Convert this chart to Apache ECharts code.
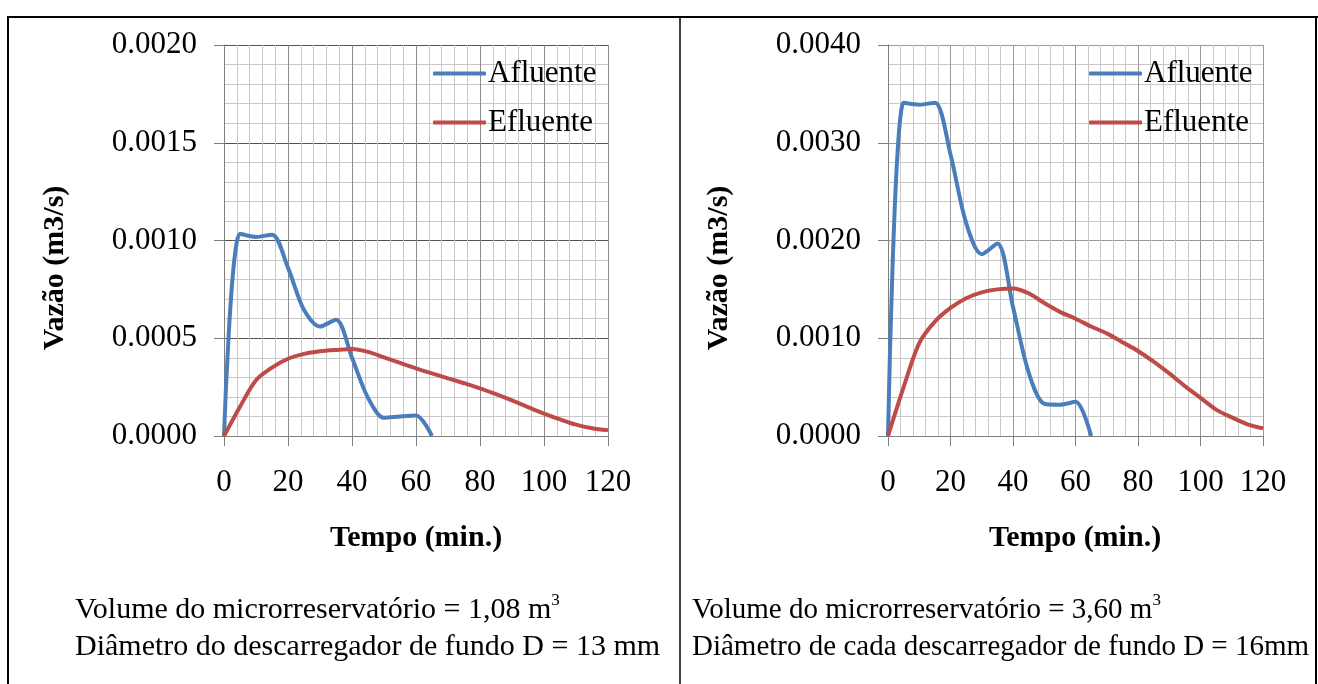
<!DOCTYPE html>
<html><head><meta charset="utf-8">
<script src="https://cdn.jsdelivr.net/npm/echarts@6/dist/echarts.min.js"></script>
<style>html,body{margin:0;padding:0;background:#fff}#c{width:1318px;height:684px}</style>
</head><body><div id="c"></div>
<script>
// ---- data ----
const inflowTimes = [0, 5, 10, 15, 20, 25, 30, 35, 40, 45, 50, 55, 60, 65];
const outflowTimes = [0, 5, 10, 15, 20, 25, 30, 35, 40, 45, 50, 55, 60, 65, 70, 75, 80, 85, 90, 95, 100, 105, 110, 115, 120];
// Chart 1 (volume 1,08 m3, D = 13 mm)
const afluente1 = [0, 0.001035, 0.001018, 0.001030, 0.000860, 0.000645, 0.000560, 0.000595, 0.000400, 0.000195, 0.000093, 0.000100, 0.000105, 0];
const efluente1 = [0, 0.000150, 0.000285, 0.000350, 0.000395, 0.000420, 0.000433, 0.000440, 0.000445, 0.000430, 0.000402, 0.000374, 0.000346, 0.000320, 0.000295, 0.000270, 0.000244, 0.000214, 0.000182, 0.000148, 0.000115, 0.000085, 0.000058, 0.000040, 0.000030];
// Chart 2 (volume 3,60 m3, D = 16 mm)
const afluente2 = [0, 0.003410, 0.003390, 0.003410, 0.002880, 0.002180, 0.001860, 0.001970, 0.001320, 0.000650, 0.000330, 0.000320, 0.000350, 0];
const efluente2 = [0, 0.000500, 0.000950, 0.001170, 0.001310, 0.001410, 0.001470, 0.001500, 0.001510, 0.001460, 0.001360, 0.001270, 0.001200, 0.001120, 0.001050, 0.000960, 0.000870, 0.000760, 0.000640, 0.000510, 0.000390, 0.000270, 0.000190, 0.000120, 0.000078];
const seriesNames = ['Afluente', 'Efluente'];
const xTitle = 'Tempo (min.)';
const yTitle = 'Vazão (m3/s)';
const caption1 = ['Volume do microrreservatório = 1,08 m', 'Diâmetro do descarregador de fundo D = 13 mm'];
const caption2 = ['Volume do microrreservatório = 3,60 m', 'Diâmetro de cada descarregador de fundo D = 16mm'];

// ---- chart ----
const FONT = 'Liberation Serif';
const BLUE = '#4a7ebb', RED = '#be4b48';
const pairs = (xs, ys) => ys.map((v, i) => [xs[i], v]);

function xAxis(gi, majorColor) {
  return {
    type: 'value', gridIndex: gi, min: 0, max: 120, interval: 20,
    axisLine: { show: true, onZero: false, lineStyle: { color: '#7f7f7f', width: 1 } },
    axisTick: { show: true, inside: false, length: 10, lineStyle: { color: '#7f7f7f' } },
    axisLabel: { margin: 31, color: '#000', fontFamily: FONT, fontSize: 31 },
    splitLine: { show: true, lineStyle: { color: majorColor, width: 1 } },
    minorTick: { show: false, splitNumber: 5 },
    minorSplitLine: { show: true, lineStyle: { color: '#c8c8c8', width: 1 } }
  };
}
function yAxis(gi, max, interval, majorColor) {
  return {
    type: 'value', gridIndex: gi, min: 0, max: max, interval: interval,
    axisLine: { show: true, lineStyle: { color: '#7f7f7f', width: 1 } },
    axisTick: { show: true, inside: false, length: 10, lineStyle: { color: '#7f7f7f' } },
    axisLabel: { margin: 27, color: '#000', fontFamily: FONT, fontSize: 31, formatter: v => v.toFixed(4) },
    splitLine: { show: true, lineStyle: { color: majorColor, width: 1 } },
    minorTick: { show: false, splitNumber: 5 },
    minorSplitLine: { show: true, lineStyle: { color: '#c8c8c8', width: 1 } }
  };
}
function line(name, xi, data, color) {
  return {
    name: name, type: 'line', xAxisIndex: xi, yAxisIndex: xi, data: data,
    smooth: 0.3, symbol: 'none', color: color,
    lineStyle: { color: color, width: 4 }, z: 3
  };
}
function legend(left) {
  return {
    data: seriesNames, orient: 'vertical', left: left, top: 58, padding: 0,
    icon: 'roundRect', itemWidth: 53, itemHeight: 4, itemGap: 18,
    textStyle: { color: '#000', fontFamily: FONT, fontSize: 31, padding: [0, 0, 0, -3] }
  };
}
function axisTitleX(cx) {
  return { type: 'text', x: cx, y: 538, style: { text: xTitle, fontFamily: FONT, fontWeight: 'bold', fontSize: 30, fill: '#000', align: 'center', verticalAlign: 'middle' } };
}
function axisTitleY(cx) {
  return { type: 'text', x: cx, y: 268, rotation: Math.PI / 2, style: { text: yTitle, fontFamily: FONT, fontWeight: 'bold', fontSize: 30, fill: '#000', align: 'center', verticalAlign: 'middle' } };
}
function caption(x, lines, size) {
  return {
    type: 'text', x: x, y: 592,
    style: {
      text: '{a|' + lines[0] + '}{s|3}\n{a|' + lines[1] + '}',
      fill: '#000',
      rich: {
        a: { fontFamily: FONT, fontSize: size, lineHeight: 37, fill: '#000' },
        s: { fontFamily: FONT, fontSize: 17, lineHeight: 37, verticalAlign: 'top', fill: '#000', padding: [0, 0, 6, 0] }
      }
    }
  };
}
function vline(x, y1, y2, w) { return { type: 'line', shape: { x1: x, y1: y1, x2: x, y2: y2 }, style: { stroke: '#000', lineWidth: w } }; }
function hline(y, x1, x2, w) { return { type: 'line', shape: { x1: x1, y1: y, x2: x2, y2: y }, style: { stroke: '#000', lineWidth: w } }; }

const chart = echarts.init(document.getElementById('c'), null, { renderer: 'canvas', width: 1318, height: 684 });
chart.setOption({
  animation: false,
  backgroundColor: '#fff',
  grid: [
    { left: 224, top: 45, width: 384, height: 391 },
    { left: 888, top: 45, width: 375, height: 391 }
  ],
  xAxis: [xAxis(0, '#8c8c8c'), xAxis(1, '#9a9a9a')],
  yAxis: [yAxis(0, 0.002, 0.0005, '#555555'), yAxis(1, 0.004, 0.001, '#9a9a9a')],
  legend: [legend(433), legend(1089)],
  series: [
    line(seriesNames[0], 0, pairs(inflowTimes, afluente1), BLUE),
    line(seriesNames[1], 0, pairs(outflowTimes, efluente1), RED),
    line(seriesNames[0], 1, pairs(inflowTimes, afluente2), BLUE),
    line(seriesNames[1], 1, pairs(outflowTimes, efluente2), RED)
  ],
  graphic: [
    hline(17, 7, 1318, 2),
    vline(8, 16, 684, 2),
    vline(680, 16, 684, 1.5),
    vline(1316, 16, 684, 2),
    axisTitleX(416), axisTitleX(1075),
    axisTitleY(55), axisTitleY(719),
    caption(75, caption1, 30), caption(692, caption2, 29)
  ]
});
</script></body></html>
